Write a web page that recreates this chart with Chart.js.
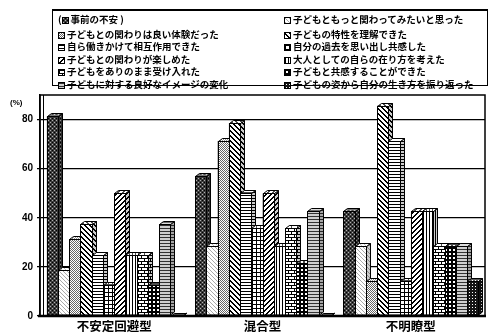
<!DOCTYPE html>
<html>
<head>
<meta charset="utf-8">
<script src="https://cdn.jsdelivr.net/npm/chart.js@4"></script>
<style>
  body { margin: 0; background: #fff; }
  #wrap { position: relative; width: 490px; height: 335px; overflow: hidden; }
  #chart { position: absolute; left: 0; top: 0; }
  #legend {
    position: absolute; left: 52px; top: 9px; width: 436px; height: 77px;
    border: 1px solid #000; border-top-width: 2px; box-sizing: border-box;
  }
  .item {
    position: absolute; font: bold 9.5px 'Noto Sans CJK JP', sans-serif;
    color: #000; white-space: nowrap; line-height: 12px;
  }
  .sw {
    display: inline-block; width: 7px; height: 7px; border: 1px solid #000;
    margin-right: 2px; vertical-align: -1px; box-sizing: border-box;
  }
  #unit {
    position: absolute; left: 10px; top: 98px;
    font: bold 8px 'Liberation Sans', sans-serif; color: #000;
  }
</style>
</head>
<body>
<div id="wrap">
  <canvas id="chart" width="490" height="335"></canvas>
  <div id="legend"></div>
  <div id="unit">(%)</div>
</div>
<script>
const categories = ['不安定回避型', '混合型', '不明瞭型']

const seriesNames = [
    '事前の不安',
    '子どもともっと関わってみたいと思った',
    '子どもとの関わりは良い体験だった',
    '子どもの特性を理解できた',
    '自ら働きかけて相互作用できた',
    '自分の過去を思い出し共感した',
    '子どもとの関わりが楽しめた',
    '大人としての自らの在り方を考えた',
    '子どもをありのまま受け入れた',
    '子どもと共感することができた',
    '子どもに対する良好なイメージの変化',
    '子どもの姿から自分の生き方を振り返った'
]

// percentages per type (不安定回避型, 混合型, 不明瞭型)
const anxiety      = [81.3, 57.1, 42.9]
const wantMore     = [18.8, 28.6, 28.6]
const goodTime     = [31.3, 71.4, 14.3]
const understood   = [37.5, 78.6, 85.7]
const interacted   = [25.0, 50.0, 71.4]
const ownPast      = [12.5, 35.7, 14.3]
const enjoyed      = [50.0, 50.0, 42.9]
const asAdult      = [25.0, 28.6, 42.9]
const accepted     = [25.0, 35.7, 28.6]
const empathized   = [12.5, 21.4, 28.6]
const betterImage  = [37.5, 42.9, 28.6]
const reflected    = [0, 0, 14.3]

const yTicks = [0, 20, 40, 60, 80]

const seriesValues = [anxiety, wantMore, goodTime, understood, interacted, ownPast,
    enjoyed, asAdult, accepted, empathized, betterImage, reflected]

// small pixel tiles used as monochrome fill patterns
function tile(w, h, bg, paint) {
    const c = document.createElement('canvas')
    c.width = w
    c.height = h
    const g = c.getContext('2d')
    g.fillStyle = bg
    g.fillRect(0, 0, w, h)
    g.fillStyle = '#000'
    paint(g)
    return c
}

const tiles = [
    tile(4, 4, '#3c3c3c', g => {
        g.fillStyle = '#b0b0b0'; g.fillRect(0, 0, 1, 1); g.fillRect(2, 2, 1, 1)
        g.fillStyle = '#000'; g.fillRect(2, 0, 1, 1); g.fillRect(0, 2, 1, 1)
    }),
    tile(4, 4, '#fff', g => {
        g.fillStyle = '#aaa'
        for (let i = 0; i < 4; i++) g.fillRect(i, i, 1, 1)
    }),
    tile(2, 2, '#fff', g => {
        g.fillStyle = '#666'; g.fillRect(0, 0, 1, 1); g.fillRect(1, 1, 1, 1)
    }),
    tile(5, 5, '#fff', g => {
        for (let i = 0; i < 5; i++) { g.fillRect(i, i, 1, 1); g.fillRect(i, (i + 1) % 5, 1, 1) }
    }),
    tile(1, 3, '#fff', g => g.fillRect(0, 0, 1, 1)),
    tile(4, 4, '#fff', g => { g.fillRect(0, 0, 4, 1); g.fillRect(0, 0, 1, 4) }),
    tile(5, 5, '#fff', g => {
        for (let i = 0; i < 5; i++) { g.fillRect(i, 4 - i, 1, 1); g.fillRect(i, (5 - i) % 5, 1, 1) }
    }),
    tile(3, 1, '#fff', g => g.fillRect(0, 0, 1, 1)),
    tile(6, 6, '#fff', g => {
        g.fillRect(0, 0, 6, 1); g.fillRect(0, 3, 6, 1)
        g.fillRect(0, 1, 1, 2); g.fillRect(3, 4, 1, 2)
    }),
    tile(4, 4, '#000', g => { g.fillStyle = '#fff'; g.fillRect(1, 1, 2, 2) }),
    tile(1, 3, '#cfcfcf', g => { g.fillStyle = '#333'; g.fillRect(0, 0, 1, 1) }),
    tile(3, 3, '#151515', g => { g.fillStyle = '#fff'; g.fillRect(1, 1, 1, 1) })
]

const ctx = document.getElementById('chart').getContext('2d')
const fills = tiles.map(t => ctx.createPattern(t, 'repeat'))
const family = "'Noto Sans CJK JP', sans-serif"

// legend: two columns, filled row by row
const legendBox = document.getElementById('legend')
const rowTops = [2, 17, 29, 42, 54, 67]
seriesNames.forEach((name, i) => {
    const div = document.createElement('div')
    div.className = 'item'
    const col = i % 2
    div.style.left = (col ? 231 : 5) + 'px'
    div.style.top = rowTops[Math.floor(i / 2)] + 'px'
    const sw = document.createElement('span')
    sw.className = 'sw'
    sw.style.backgroundImage = 'url(' + tiles[i].toDataURL() + ')'
    if (i === 0) div.appendChild(document.createTextNode('('))
    div.appendChild(sw)
    div.appendChild(document.createTextNode(name + (i === 0 ? ' )' : '')))
    legendBox.appendChild(div)
})

// pseudo-3D faces; bars redrawn left to right so each covers its neighbour's side
const depth = {
    id: 'depth',
    afterDatasetsDraw(chart) {
        const c = chart.ctx
        const dx = 4, dy = 3
        chart.data.datasets.forEach((ds, i) => {
            chart.getDatasetMeta(i).data.forEach(bar => {
                const { x, y, base, width } = bar.getProps(['x', 'y', 'base', 'width'], true)
                const l = Math.round(x - width / 2) + 0.5
                const r = Math.round(x + width / 2) + 0.5
                const t = Math.round(y) + 0.5
                const b = Math.round(base)
                c.save()
                c.lineWidth = 1
                c.strokeStyle = '#000'
                c.beginPath()
                c.moveTo(r, b); c.lineTo(r + dx, b - dy); c.lineTo(r + dx, t - dy); c.lineTo(r, t)
                c.closePath()
                c.fillStyle = ds.backgroundColor; c.fill()
                c.fillStyle = 'rgba(0,0,0,0.2)'; c.fill()
                c.stroke()
                c.beginPath()
                c.moveTo(l, t); c.lineTo(l + dx, t - dy); c.lineTo(r + dx, t - dy); c.lineTo(r, t)
                c.closePath()
                c.fillStyle = ds.backgroundColor; c.fill()
                c.fillStyle = 'rgba(255,255,255,0.3)'; c.fill()
                c.stroke()
                if (b - t > 0) {
                    c.fillStyle = ds.backgroundColor
                    c.fillRect(l, t, r - l, b - t)
                    c.strokeRect(l, t, r - l, b - t)
                }
                c.restore()
            })
        })
    },
    afterDraw(chart) {
        const { left, right, top, bottom } = chart.chartArea
        const c = chart.ctx
        c.save()
        c.strokeStyle = '#000'
        c.lineWidth = 1.5
        c.strokeRect(left, top, right - left, bottom - top)
        c.lineWidth = 1
        c.beginPath()
        c.moveTo(left + 3.5, top); c.lineTo(left + 3.5, bottom)
        c.stroke()
        c.lineWidth = 2.5
        c.beginPath()
        c.moveTo(left - 2, bottom); c.lineTo(right + 1, bottom)
        c.stroke()
        c.restore()
    }
}

new Chart(ctx, {
    type: 'bar',
    data: {
        labels: categories,
        datasets: seriesNames.map((name, i) => ({
            label: name,
            data: seriesValues[i],
            backgroundColor: fills[i],
            borderColor: '#000',
            borderWidth: 1
        }))
    },
    options: {
        responsive: false,
        animation: false,
        layout: { padding: { top: 95, right: 5, left: 0, bottom: 0 } },
        plugins: { legend: { display: false }, tooltip: { enabled: false } },
        datasets: { bar: { categoryPercentage: 0.91, barPercentage: 1 } },
        scales: {
            x: {
                grid: { display: false },
                border: { display: false },
                ticks: { color: '#000', padding: -5, font: { family, size: 12.5, weight: 'bold' } },
                afterFit(s) { s.height = 19 }
            },
            y: {
                min: 0,
                max: 90,
                afterBuildTicks(s) { s.ticks = yTicks.map(v => ({ value: v })) },
                ticks: { color: '#000', padding: 4, font: { family: "'Liberation Sans', sans-serif", size: 10, weight: 'bold' } },
                grid: { color: '#000', lineWidth: 1.3, tickLength: 3 },
                border: { color: '#000', width: 1.5 },
                afterFit(s) { s.width = 40 }
            }
        }
    },
    plugins: [depth]
})
</script>
</body>
</html>
